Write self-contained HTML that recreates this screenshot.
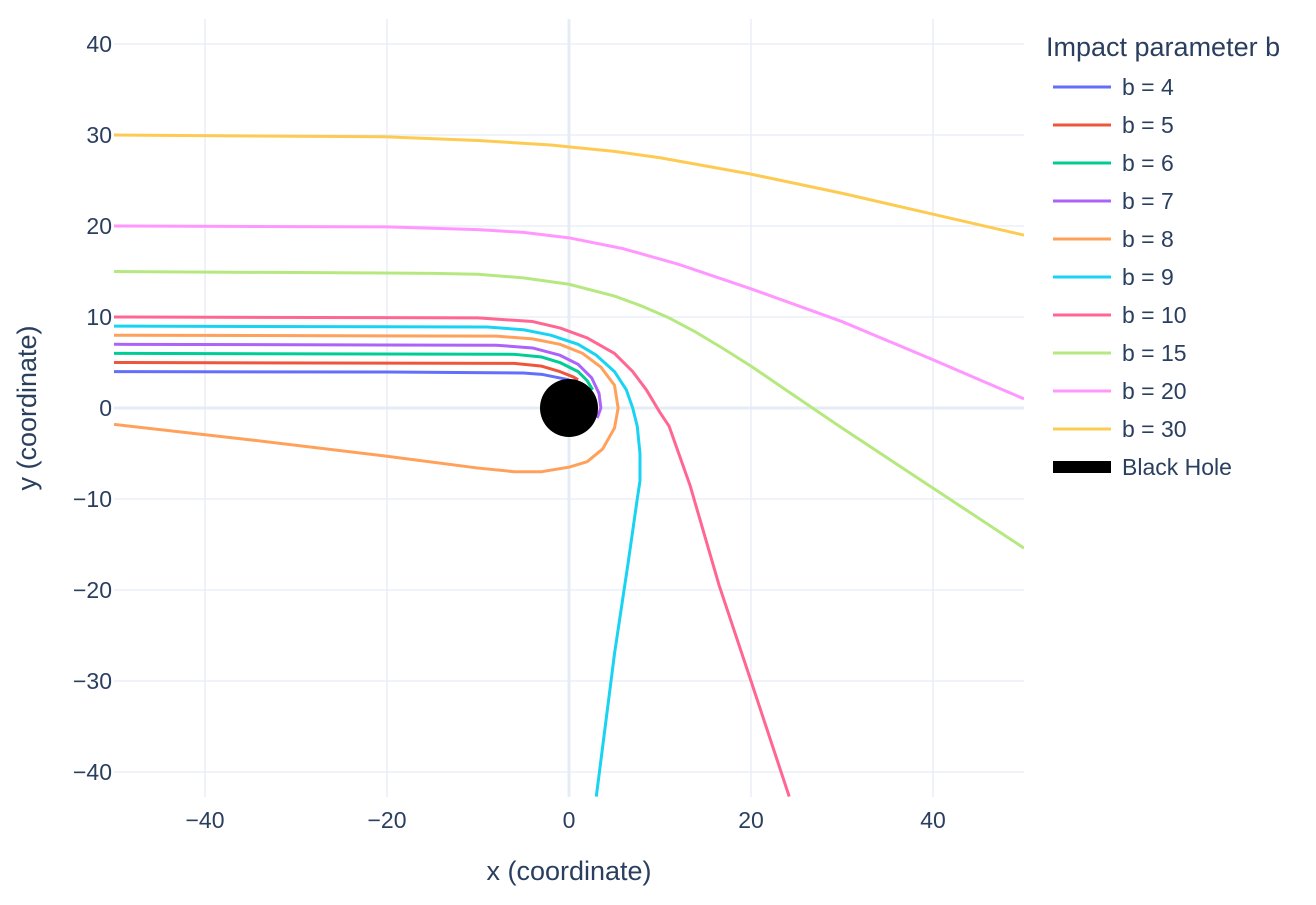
<!DOCTYPE html>
<html><head><meta charset="utf-8"><style>
body{margin:0;background:#fff;font-family:"Liberation Sans",Arial,sans-serif;}
svg text{font-family:"Liberation Sans",Arial,sans-serif;fill:#2a3f5f;}
</style></head><body>
<svg id="chart" width="1316" height="900">
<g id="grid"></g>
<g id="traces"></g>
<g id="axes"></g>
<g id="legend"></g>
<text x="569" y="880" text-anchor="middle" font-size="27">x (coordinate)</text>
<text transform="translate(36,408) rotate(-90)" text-anchor="middle" font-size="27">y (coordinate)</text>
</svg>
<script>
const xTicks=[-40,-20,0,20,40];
const yTicks=[-40,-30,-20,-10,0,10,20,30,40];
const seriesNames=["b = 4","b = 5","b = 6","b = 7","b = 8","b = 9","b = 10","b = 15","b = 20","b = 30"];
const seriesColors=["#636efa","#EF553B","#00cc96","#ab63fa","#FFA15A","#19d3f3","#FF6692","#B6E880","#FF97FF","#FECB52"];
const b4=[[-50,4],[-20,3.95],[-5,3.85],[-3,3.7],[-1.5,3.4],[0,3.1]];
const b5=[[-50,5],[-6,4.9],[-3,4.6],[-1,4],[0.5,3.4],[1,3.1]];
const b6=[[-50,6],[-6,5.9],[-3,5.6],[-1,5],[1,4],[2,3],[2.6,2]];
const b7=[[-50,7],[-8,6.9],[-4,6.6],[-1,5.8],[1,4.8],[2.5,3.3],[3.3,1.6],[3.5,0],[3.1,-1.1]];
const b8=[[-50,8],[-8,7.9],[-4,7.6],[-1,7],[1.5,6],[3.5,4.5],[5,2.5],[5.4,0],[5,-2.2],[3.7,-4.5],[2,-5.9],[0,-6.5],[-3,-7],[-6,-7],[-10,-6.6],[-20,-5.3],[-35,-3.5],[-50,-1.8]];
const b9=[[-50,9],[-9,8.9],[-5,8.6],[-2,8],[1,7],[3,5.8],[5,4],[6.3,2],[7,0],[7.5,-2],[7.8,-5],[7.8,-8],[7.5,-10],[6.5,-17],[5,-27],[3,-42.7]];
const b10=[[-50,10],[-10,9.9],[-4,9.5],[-1,8.8],[2,7.7],[5,6],[7,4],[8.5,2],[10,-0.5],[11,-2],[13.3,-8.5],[16.5,-19.5],[20,-30],[24.2,-42.7]];
const b15=[[-50,15],[-15,14.8],[-10,14.7],[-5,14.3],[0,13.6],[5,12.3],[8,11.2],[11,9.9],[14,8.3],[17,6.5],[20,4.6],[25,1.2],[30,-2.2],[40,-8.8],[50,-15.4]];
const b20=[[-50,20],[-20,19.9],[-10,19.6],[-5,19.3],[0,18.7],[6,17.5],[12,15.8],[20,13.1],[30,9.5],[40,5.3],[50,1]];
const b30=[[-50,30],[-20,29.8],[-10,29.4],[-2,28.9],[0,28.7],[5,28.2],[10,27.5],[20,25.7],[30,23.6],[40,21.3],[50,19]];
const seriesData=[b4,b5,b6,b7,b8,b9,b10,b15,b20,b30];
const xRange=[-50,50], yRange=[-42.75,42.75];
const L=114,R=1024,T=19,B=797;
const NS="http://www.w3.org/2000/svg";
function sx(v){return L+(v-xRange[0])/(xRange[1]-xRange[0])*(R-L);}
function sy(v){return B-(v-yRange[0])/(yRange[1]-yRange[0])*(B-T);}
function mk(tag,attrs,parent){const e=document.createElementNS(NS,tag);for(const k in attrs)e.setAttribute(k,attrs[k]);parent.appendChild(e);return e;}
const grid=document.getElementById('grid'),axes=document.getElementById('axes'),tr=document.getElementById('traces'),lg=document.getElementById('legend');
const defs=mk('defs',{},document.getElementById('chart'));
const cp=mk('clipPath',{id:'clip'},defs);mk('rect',{x:L,y:T,width:R-L,height:B-T},cp);
tr.setAttribute('clip-path','url(#clip)');
xTicks.forEach(t=>{
 const l=mk('line',{x1:sx(t),x2:sx(t),y1:T,y2:B,stroke:'#E6ECF5','stroke-width':t===0?3:1.3},grid);
 
 
 const tx=mk('text',{x:sx(t),y:B+31,'text-anchor':'middle','font-size':23},axes);
 tx.textContent=String(t).replace('-','\u2212');
 
 
});
yTicks.forEach(t=>{
 const l=mk('line',{x1:L,x2:R,y1:sy(t),y2:sy(t),stroke:'#E6ECF5','stroke-width':t===0?3:1.3},grid);
 
 
 const tx=mk('text',{x:L-2,y:sy(t)+8,'text-anchor':'end','font-size':23},axes);
 tx.textContent=String(t).replace('-','\u2212');
 
 
});
seriesData.forEach((d,i)=>{
 const p=mk('polyline',{points:d.map(q=>sx(q[0])+','+sy(q[1])).join(' '),fill:'none',stroke:seriesColors[i],'stroke-width':3,'stroke-linejoin':'round'},tr);
 
 
});
const bh=mk('circle',{cx:sx(0),cy:sy(0),r:29,fill:'#000'},tr);


const lt=mk('text',{x:1046,y:56,'font-size':27},lg);
lt.textContent='Impact parameter b';


const names=seriesNames.concat(['Black Hole']);
const cols=seriesColors.concat(['#000']);
names.forEach((n,i)=>{
 const y=87+i*38;
 const g=mk('g',{},lg);
 
 
 mk('line',{x1:1053,x2:1111,y1:y,y2:y,stroke:cols[i],'stroke-width':i===10?12:3},g);
 const t=mk('text',{x:1122,y:y+8,'font-size':23},g);
 t.textContent=n;
});
</script>
</body></html>
